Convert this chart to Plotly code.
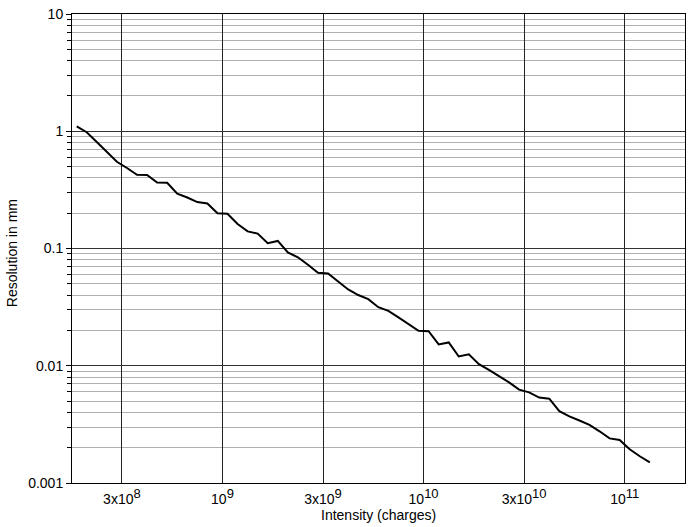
import plotly.graph_objects as go

# Intensity (charges)
intensity = [
    1.884e8, 2.113e8, 2.371e8, 2.661e8, 2.985e8, 3.350e8, 3.758e8, 4.217e8, 4.732e8, 5.309e8,
    5.957e8, 6.683e8, 7.499e8, 8.414e8, 9.441e8, 1.059e9, 1.189e9, 1.334e9, 1.496e9, 1.679e9,
    1.884e9, 2.113e9, 2.371e9, 2.661e9, 2.985e9, 3.350e9, 3.758e9, 4.217e9, 4.732e9, 5.309e9,
    5.957e9, 6.683e9, 7.499e9, 8.414e9, 9.441e9, 1.059e10, 1.189e10, 1.334e10, 1.496e10, 1.679e10,
    1.884e10, 2.113e10, 2.371e10, 2.661e10, 2.985e10, 3.350e10, 3.758e10, 4.217e10, 4.732e10, 5.309e10,
    5.957e10, 6.683e10, 7.499e10, 8.414e10, 9.441e10, 1.059e11, 1.189e11, 1.334e11,
]
# Resolution in mm
resolution = [
    1.099, 0.981, 0.809, 0.668, 0.549, 0.486, 0.425, 0.423, 0.365, 0.364,
    0.293, 0.272, 0.249, 0.242, 0.200, 0.198, 0.162, 0.140, 0.134, 0.111,
    0.116, 0.0925, 0.0841, 0.0726, 0.0620, 0.0612, 0.0520, 0.0447, 0.0401, 0.0370,
    0.0316, 0.0294, 0.0259, 0.0228, 0.0199, 0.0197, 0.0152, 0.0158, 0.0120, 0.0125,
    0.01032, 0.00923, 0.00820, 0.00722, 0.00625, 0.00593, 0.00535, 0.00524, 0.00410, 0.00370,
    0.00341, 0.00313, 0.00276, 0.00240, 0.00233, 0.00194, 0.00169, 0.00150,
]

SUP = '<sup><span style="font-size:13px">%s</span></sup>'
# grid lines sit at the half-decades (labelled "3x10^n") and at the decades
x_tickvals = [3.162e8, 1e9, 3.162e9, 1e10, 3.162e10, 1e11]
x_ticktext = ["3x10" + SUP % "8", "10" + SUP % "9", "3x10" + SUP % "9",
              "10" + SUP % "10", "3x10" + SUP % "10", "10" + SUP % "11"]
y_tickvals = [0.001, 0.01, 0.1, 1, 10]
y_ticktext = ["0.001", "0.01", "0.1", "1", "10"]
y_minor = [m * d for d in [0.001, 0.01, 0.1, 1] for m in range(2, 10)]

FONT = "Liberation Sans, Arial, Helvetica, sans-serif"

W, H = 690, 527
ML, MR, MT, MB = 72, 5, 14, 44
plot_w = W - ML - MR
plot_h = H - MT - MB

fig = go.Figure()
fig.add_trace(go.Scatter(
    x=intensity, y=resolution, mode="lines",
    line=dict(color="black", width=2),
    showlegend=False,
))

fig.update_layout(
    width=W, height=H,
    margin=dict(l=ML, r=MR, t=MT, b=MB),
    paper_bgcolor="white", plot_bgcolor="white",
    font=dict(family=FONT, size=14, color="black"),
    xaxis=dict(
        type="log", range=[8.2517, 11.300], automargin=False,
        tickvals=x_tickvals, ticktext=x_ticktext,
        ticks="", ticklabelstandoff=3, ticklabeloverflow="allow",
        showgrid=True, gridcolor="#222", gridwidth=1,
        showline=True, linecolor="black", linewidth=1, mirror=True,
        zeroline=False,
        tickfont=dict(size=14),
    ),
    yaxis=dict(
        type="log", range=[-3, 1], automargin=False,
        tickvals=y_tickvals, ticktext=y_ticktext,
        ticks="outside", ticklen=5, tickcolor="black", ticklabeloverflow="allow",
        showgrid=True, gridcolor="#333", gridwidth=1,
        showline=True, linecolor="black", linewidth=1, mirror=True,
        zeroline=False,
        minor=dict(tickvals=y_minor, ticks="outside", ticklen=4, tickcolor="black",
                   showgrid=True, gridcolor="#b0b0b0", gridwidth=1),
        tickfont=dict(size=14),
    ),
    annotations=[
        dict(text="Intensity (charges)", xref="paper", yref="paper",
             x=0.5, y=-32 / plot_h, xanchor="center", yanchor="middle",
             showarrow=False, font=dict(size=14)),
        dict(text="Resolution in mm", xref="paper", yref="paper",
             x=(12 - ML) / plot_w, y=0.49, xanchor="center", yanchor="middle",
             textangle=-90, showarrow=False, font=dict(size=14)),
    ],
)

fig.write_html("out.html", config={"displayModeBar": False},
               post_script="document.body.style.margin='0';")
